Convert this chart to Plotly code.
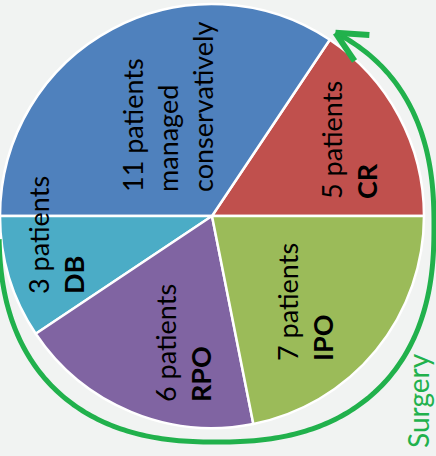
import numpy as np
import plotly.graph_objects as go

# ---- data ----
codes = ["CR", "conservative", "DB", "RPO", "IPO"]
counts = [5, 11, 3, 6, 7]
colors = ["#c0504d", "#4f81bd", "#4bacc6", "#8064a2", "#9bbb59"]
label_texts = [
    "5 patients<br><b>CR</b>",
    "11 patients<br>managed<br>conservatively",
    "3 patients<br><b>DB</b>",
    "6 patients<br><b>RPO</b>",
    "7 patients<br><b>IPO</b>",
]
arrow_label = "Surgery"

# ---- layout constants (pixels) ----
W, H = 436, 456
PIE_CX, PIE_CY, PIE_R = 212, 216, 212
label_px = [(349, 201), (167, 194), (56, 296), (183, 404), (305, 363)]
FONT = "Lato, Open Sans, sans-serif"
GREEN = "#21b14c"
BG = "#f1f3f2"


def px2paper(x, y):
    return x / W, 1 - y / H


# first slice (CR) starts at 3 o'clock and runs counterclockwise;
# plotly places the first counterclockwise slice clockwise of `rotation`
first_angle = 360.0 * counts[0] / sum(counts)
rotation = 90 - first_angle

fig = go.Figure()
fig.add_trace(go.Pie(
    values=counts,
    labels=codes,
    sort=False,
    direction="counterclockwise",
    rotation=rotation,
    marker=dict(colors=colors, line=dict(color="white", width=2.5)),
    textinfo="none",
    hoverinfo="label+value",
    showlegend=False,
    domain=dict(x=[(PIE_CX - PIE_R) / W, (PIE_CX + PIE_R) / W],
                y=[(H - PIE_CY - PIE_R) / H, (H - PIE_CY + PIE_R) / H]),
))

annotations = []
for txt, (lx, ly) in zip(label_texts, label_px):
    ax, ay = px2paper(lx, ly)
    annotations.append(dict(
        x=ax, y=ay, xref="paper", yref="paper", text=txt, showarrow=False,
        textangle=-90, xanchor="center", yanchor="bottom", align="left",
        font=dict(family=FONT, size=27, color="#000000"),
    ))

sx, sy = px2paper(435.5, 449)
annotations.append(dict(
    x=sx, y=sy, xref="paper", yref="paper", text=arrow_label, showarrow=False,
    textangle=-90, xanchor="right", yanchor="bottom", borderpad=0,
    font=dict(family=FONT, size=28, color=GREEN),
))

# ---- "Surgery" arc with arrowhead (superellipse around pie) ----
acx, acy, aa, ab, n = 216.5, 226.0, 217.5, 216.0, 2.4


def arc_pt(tdeg):
    t = np.radians(tdeg)
    c, s = np.cos(t), np.sin(t)
    x = acx + aa * np.sign(c) * np.abs(c) ** (2 / n)
    y = acy - ab * np.sign(s) * np.abs(s) ** (2 / n)
    return x, y


ts = np.linspace(61, -178, 240)
pts = [px2paper(*arc_pt(t)) for t in ts]
path = "M " + " L ".join(f"{x:.5f},{y:.5f}" for x, y in pts)

shapes = [dict(type="path", xref="paper", yref="paper", path=path,
               line=dict(color=GREEN, width=5))]

tipx, tipy = arc_pt(61)
bx, by = arc_pt(55)
d = np.array([bx - tipx, by - tipy])
d = d / np.linalg.norm(d)
for ang in (26, -26):
    r = np.radians(ang)
    rot = np.array([d[0] * np.cos(r) - d[1] * np.sin(r), d[0] * np.sin(r) + d[1] * np.cos(r)])
    ex, ey = tipx + 34 * rot[0], tipy + 34 * rot[1]
    p0 = px2paper(tipx, tipy)
    p1 = px2paper(ex, ey)
    shapes.append(dict(type="line", xref="paper", yref="paper",
                       x0=p0[0], y0=p0[1], x1=p1[0], y1=p1[1],
                       line=dict(color=GREEN, width=6)))

fig.update_layout(
    width=W, height=H,
    margin=dict(l=0, r=0, t=0, b=0),
    paper_bgcolor=BG, plot_bgcolor=BG,
    annotations=annotations,
    shapes=shapes,
)

fig.write_html("out.html")
